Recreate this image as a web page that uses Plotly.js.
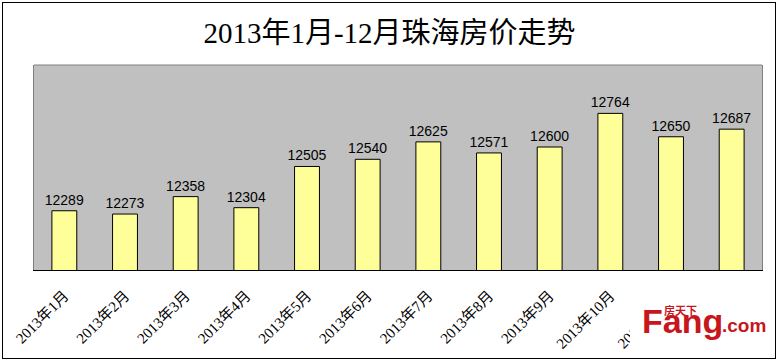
<!DOCTYPE html>
<html>
<head>
<meta charset="utf-8">
<script src="https://cdn.plot.ly/plotly-3.0.1.min.js"></script>
<style>
  html, body { margin: 0; padding: 0; background: #ffffff; }
  #wrap { position: relative; width: 779px; height: 362px; }
  #chart { width: 779px; height: 362px; }
  #frame { position: absolute; left: 2px; top: 2px; width: 772px; height: 355px;
           border: 1px solid #000; pointer-events: none; }
</style>
</head>
<body>
<div id="wrap">
  <div id="chart"></div>
  <div id="frame"></div>
</div>
<script>
const months = ["2013年1月","2013年2月","2013年3月","2013年4月","2013年5月","2013年6月",
                "2013年7月","2013年8月","2013年9月","2013年10月","2013年11月","2013年12月"];
const prices = [12289, 12273, 12358, 12304, 12505, 12540, 12625, 12571, 12600, 12764, 12650, 12687];
const chartTitle = "2013年1月-12月珠海房价走势";

const W = 779, H = 362;
const M = { l: 34, r: 17, t: 65, b: 92 };
const pw = W - M.l - M.r, ph = H - M.t - M.b;
const px = x => (x - M.l) / pw;
const py = y => 1 - (y - M.t) / ph;

const trace = {
  type: "bar",
  x: months,
  y: prices,
  text: prices.map(String),
  textposition: "outside",
  constraintext: "none",
  cliponaxis: false,
  textfont: { family: "Liberation Sans, Arial, sans-serif", size: 14, color: "#000" },
  marker: { color: "#ffff99", line: { color: "#000", width: 1 } },
  hoverinfo: "skip"
};

const logoRed = "#c8161d";
const logoFont = size => ({ family: "Liberation Sans, Noto Sans CJK SC, sans-serif", size: size, color: logoRed });

const layout = {
  width: W, height: H,
  margin: M,
  paper_bgcolor: "#ffffff",
  plot_bgcolor: "#c0c0c0",
  showlegend: false,
  bargap: 0.59,
  title: {
    text: chartTitle,
    font: { family: "Liberation Serif, Noto Sans CJK SC, serif", size: 29, color: "#000" },
    x: 0.5, xanchor: "center",
    y: 1 - 33 / H, yanchor: "middle", yref: "container"
  },
  xaxis: {
    type: "category",
    tickangle: -45,
    showline: true, linecolor: "#000", linewidth: 1,
    showgrid: false, zeroline: false,
    ticks: "", ticklabelstandoff: 10,
    tickfont: { family: "Liberation Serif, Noto Sans CJK SC, serif", size: 15, color: "#000" },
    fixedrange: true
  },
  yaxis: {
    range: [12000, 13000],
    showticklabels: false, ticks: "",
    showgrid: false, zeroline: false,
    showline: true, linecolor: "#808080", linewidth: 1, mirror: true,
    fixedrange: true
  },
  shapes: [
    { type: "line", xref: "paper", yref: "paper", x0: 0, x1: 1, y0: 1, y1: 1,
      line: { color: "#808080", width: 1 } },
    { type: "rect", xref: "paper", yref: "paper",
      x0: px(630), x1: px(771), y0: py(289), y1: py(354),
      fillcolor: "#ffffff", line: { width: 0 }, layer: "above" }
  ],
  annotations: [
    { xref: "paper", yref: "paper", x: px(640), y: py(342), xanchor: "left", yanchor: "bottom",
      text: "<b>Fang</b>", showarrow: false, font: logoFont(34) },
    { xref: "paper", yref: "paper", x: px(720), y: py(338), xanchor: "left", yanchor: "bottom",
      text: "<b>.com</b>", showarrow: false, font: logoFont(19) },
    { xref: "paper", yref: "paper", x: px(662), y: py(319), xanchor: "left", yanchor: "bottom",
      text: "<b>房天下</b>", showarrow: false, font: logoFont(11) }
  ]
};

Plotly.newPlot("chart", [trace], layout, { displayModeBar: false, staticPlot: true });
</script>
</body>
</html>
